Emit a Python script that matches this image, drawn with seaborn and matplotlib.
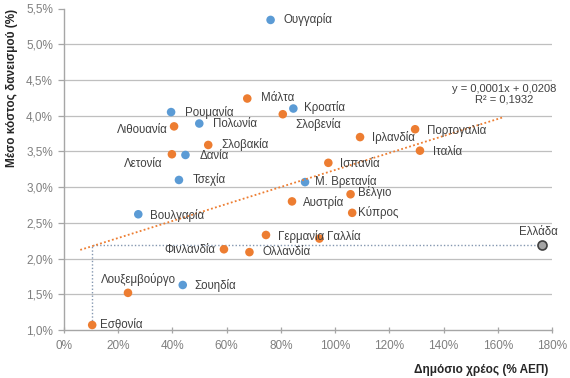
import matplotlib
matplotlib.use('Agg')
import matplotlib.pyplot as plt
import numpy as np
import pandas as pd
import seaborn as sns
from matplotlib.ticker import FuncFormatter, MultipleLocator

# Data
countries = ['Ουγγαρία', 'Μάλτα', 'Κροατία', 'Σλοβενία', 'Ρουμανία', 'Πολωνία',
             'Λιθουανία', 'Σλοβακία', 'Λετονία', 'Δανία', 'Τσεχία', 'Μ. Βρετανία',
             'Πορτογαλία', 'Ιρλανδία', 'Ιταλία', 'Ισπανία', 'Βουλγαρία', 'Γερμανία',
             'Φινλανδία', 'Ολλανδία', 'Λουξεμβούργο', 'Σουηδία', 'Εσθονία', 'Αυστρία',
             'Γαλλία', 'Βέλγιο', 'Κύπρος', 'Ελλάδα']
debt = [76.2, 67.6, 84.6, 80.7, 39.5, 49.9,
        40.6, 53.2, 39.8, 44.8, 42.4, 88.9,
        129.5, 109.2, 131.3, 97.5, 27.4, 74.5,
        59.0, 68.4, 23.6, 43.8, 10.4, 84.1,
        94.2, 105.7, 106.3, 176.4]
cost = [5.34, 4.24, 4.10, 4.02, 4.05, 3.89,
        3.85, 3.59, 3.46, 3.45, 3.10, 3.07,
        3.81, 3.70, 3.51, 3.34, 2.62, 2.33,
        2.13, 2.09, 1.52, 1.63, 1.07, 2.80,
        2.28, 2.90, 2.64, 2.19]
group = ['non', 'euro', 'non', 'euro', 'non', 'non',
         'euro', 'euro', 'euro', 'non', 'non', 'non',
         'euro', 'euro', 'euro', 'euro', 'non', 'euro',
         'euro', 'euro', 'euro', 'non', 'euro', 'euro',
         'euro', 'euro', 'euro', 'greece']

trend_slope = 0.0119
trend_intercept = 2.05
trend_x = [6.0, 162.0]
equation_text = 'y = 0,0001x + 0,0208\nR² = 0,1932'

# label placement (offset in pixels, alignment)
label_offsets = {
    'Ουγγαρία': (13, 0, 'left'), 'Μάλτα': (14, 1, 'left'), 'Κροατία': (11, 1, 'left'),
    'Σλοβενία': (13, -10, 'left'), 'Ρουμανία': (14, 0, 'left'), 'Πολωνία': (14, 0, 'left'),
    'Λιθουανία': (-6, -4, 'right'), 'Σλοβακία': (13, 0, 'left'), 'Λετονία': (-9, -10, 'right'),
    'Δανία': (14, -1, 'left'), 'Τσεχία': (14, 0, 'left'), 'Μ. Βρετανία': (10, 1, 'left'),
    'Πορτογαλία': (12, -1, 'left'), 'Ιρλανδία': (12, 0, 'left'), 'Ιταλία': (13, -1, 'left'),
    'Ισπανία': (12, -1, 'left'), 'Βουλγαρία': (12, -1, 'left'), 'Γερμανία': (12, -2, 'left'),
    'Φινλανδία': (-9, -1, 'right'), 'Ολλανδία': (13, 0, 'left'), 'Λουξεμβούργο': (10, 13, 'center'),
    'Σουηδία': (12, -1, 'left'), 'Εσθονία': (8, 0, 'left'), 'Αυστρία': (11, -1, 'left'),
    'Γαλλία': (8, 2, 'left'), 'Βέλγιο': (7, 2, 'left'), 'Κύπρος': (6, 0, 'left'),
    'Ελλάδα': (-4, 13, 'center'),
}

df = pd.DataFrame({'country': countries, 'debt': debt, 'cost': cost, 'group': group})

sns.set_style('white')
plt.rcParams['font.family'] = ['Liberation Sans', 'DejaVu Sans']

fig = plt.figure(figsize=(5.7, 3.78), dpi=100)
ax = fig.add_axes([64 / 570, 1 - 330 / 378, 488 / 570, 321.5 / 378])

# gridlines (none on the top edge)
for yv in np.arange(1.5, 5.01, 0.5):
    ax.axhline(yv, color='#bfbfbf', lw=0.9, zorder=0)

# Greece reference connector: across to Estonia, then down
gr = df[df.country == 'Ελλάδα'].iloc[0]
ee = df[df.country == 'Εσθονία'].iloc[0]
ax.plot([gr.debt, ee.debt, ee.debt], [gr.cost, gr.cost, ee.cost],
        color='#8497b0', lw=1.0, ls=(0, (1, 1.5)), zorder=1)

palette = {'non': '#5B9BD5', 'euro': '#ED7D31', 'greece': '#a5a5a5'}
main = df[df.group != 'greece']
sns.scatterplot(data=main, x='debt', y='cost', hue='group', palette=palette,
                s=38, edgecolor='none', legend=False, ax=ax, zorder=3)
sns.scatterplot(data=df[df.group == 'greece'], x='debt', y='cost', color='#a5a5a5',
                s=42, edgecolor='#404040', linewidth=1.2, legend=False, ax=ax, zorder=3)

# trendline
tx = np.array(trend_x)
ax.plot(tx, trend_intercept + trend_slope * tx, color='#ED7D31', lw=1.3,
        ls=(0, (1, 1.3)), zorder=4)
ax.text(162.3, 4.30, equation_text, ha='center', va='center', fontsize=8,
        color='#404040', linespacing=1.15, clip_on=False)

for _, r in df.iterrows():
    dx, dy, ha = label_offsets[r.country]
    ax.annotate(r.country, (r.debt, r.cost), xytext=(dx, dy), textcoords='offset pixels',
                ha=ha, va='center', fontsize=8.3, color='#404040', zorder=5)

ax.set_xlim(0, 180)
ax.set_ylim(1.0, 5.5)
ax.xaxis.set_major_locator(MultipleLocator(20))
ax.yaxis.set_major_locator(MultipleLocator(0.5))
ax.xaxis.set_major_formatter(FuncFormatter(lambda v, _: f'{v:.0f}%'))
ax.yaxis.set_major_formatter(FuncFormatter(lambda v, _: f'{v:.1f}%'.replace('.', ',')))

for side in ['top', 'right']:
    ax.spines[side].set_visible(False)
for side in ['left', 'bottom']:
    ax.spines[side].set_color('#a6a6a6')
    ax.spines[side].set_linewidth(1.0)

ax.tick_params(axis='y', direction='out', length=4, width=0.9, color='#a6a6a6',
               labelsize=8.5, labelcolor='#7f7f7f', pad=4, left=True)
ax.tick_params(axis='x', direction='inout', length=5, width=0.9, color='#a6a6a6',
               labelsize=8.5, labelcolor='#7f7f7f', pad=5, bottom=True)

ax.set_xlabel('Δημόσιο χρέος (% ΑΕΠ)', loc='right', fontsize=8.5, fontweight='bold',
              color='#262626')
ax.set_ylabel('Μέσο κόστος δανεισμού (%)', loc='top', fontsize=8.5, fontweight='bold',
              color='#262626')
ax.xaxis.set_label_coords(0.992, -0.106)
ax.yaxis.set_label_coords(-0.094, 1.0)

fig.savefig('out.png', dpi=100)
